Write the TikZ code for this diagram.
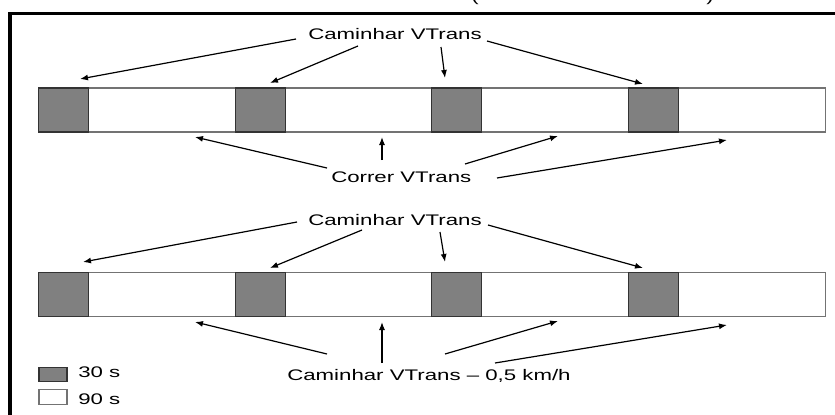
\documentclass[tikz,border=0pt]{standalone}
\usepackage{fontspec}
\setmainfont{Liberation Sans}
\usetikzlibrary{arrows.meta}
% horizontally widened lettering
\newcommand{\widetext}[1]{\scalebox{1.45}[1]{#1}}

\begin{document}
\begin{tikzpicture}[x=0.75pt,y=-0.75pt,
  lbl/.style={font=\fontsize{11.5}{13}\selectfont, inner sep=0pt, anchor=base west},
  ptr/.style={-{Latex[length=6pt,width=4.5pt]}, line width=0.9pt},
  walkblk/.style={fill=black!50, draw=black!80, line width=0.8pt, inner sep=0pt,
                  minimum width=37.5pt, minimum height=33pt, anchor=west},
  runblk/.style={fill=white, draw=black!55, line width=0.8pt, inner sep=0pt,
                 minimum width=110pt, minimum height=33pt, anchor=west},
  keybox/.style={inner sep=0pt, minimum width=21pt, minimum height=11pt, line width=0.8pt}]

\useasboundingbox (0,0) rectangle (835,414);
\clip (0,0) rectangle (835,414);
\fill[white] (0,0) rectangle (835,414);

% heading parentheses, only their lower ends reach into view
\node[lbl] (lp) at (471,1.5) {\widetext{(}};
\node[lbl] (rp) at (706,1.5) {\widetext{)}};

% outer frame
\draw[line width=2.8pt] (10,440) -- (10,13.5) -- (860,13.5);

% upper sequence
\foreach \i/\x in {1/38, 2/234.7, 3/431.3, 4/628} {
  \node[runblk] (ur\i) at (\x+50,110) {};
  \node[walkblk] (uw\i) at (\x,110) {};
}
% lower sequence
\foreach \i/\x in {1/38, 2/234.7, 3/431.3, 4/628} {
  \node[runblk] (lr\i) at (\x+50,294.5) {};
  \node[walkblk] (lw\i) at (\x,294.5) {};
}

% labels
\node[lbl] (walkA) at (308,39.5) {\widetext{Caminhar VTrans}};
\node[lbl] (run)   at (331,182)  {\widetext{Correr VTrans}};
\node[lbl] (walkB) at (308,225)  {\widetext{Caminhar VTrans}};
\node[lbl] (slow)  at (287,380)  {\widetext{Caminhar VTrans -- 0,5 km/h}};

% arrow end points
\coordinate (t1s) at (296,39);  \coordinate (t1e) at (80,79);
\coordinate (t2s) at (358,46);  \coordinate (t2e) at (270,83);
\coordinate (t3s) at (441,47);  \coordinate (t3e) at (445,78);
\coordinate (t4s) at (487,41);  \coordinate (t4e) at (643,84);

\coordinate (c1s) at (327,168); \coordinate (c1e) at (195,137);
\coordinate (c2s) at (382,160); \coordinate (c2e) at (382,137);
\coordinate (c3s) at (465,164); \coordinate (c3e) at (558,136);
\coordinate (c4s) at (497,178); \coordinate (c4e) at (727,140);

\coordinate (b1s) at (297,222); \coordinate (b1e) at (83,262);
\coordinate (b2s) at (362,230); \coordinate (b2e) at (270,268);
\coordinate (b3s) at (440,232); \coordinate (b3e) at (445,262);
\coordinate (b4s) at (488,225); \coordinate (b4e) at (643,268);

\coordinate (d1s) at (327,354); \coordinate (d1e) at (195,322);
\coordinate (d2s) at (382,363); \coordinate (d2e) at (382,322);
\coordinate (d3s) at (445,354); \coordinate (d3e) at (558,321);
\coordinate (d4s) at (495,363); \coordinate (d4e) at (727,325);

\foreach \g in {t,c,b,d}
  \foreach \k in {1,2,3,4}
    \draw[ptr] (\g\k s) -- (\g\k e);

% legend
\node[keybox, fill=black!50, draw=black!80] (k30) at (53,374.5) {};
\node[keybox, fill=white, draw=black!55] (k90) at (53,397) {};
\node[lbl] (l30) at (78,377.5) {\widetext{30 s}};
\node[lbl] (l90) at (78,404)   {\widetext{90 s}};
\end{tikzpicture}
\end{document}
